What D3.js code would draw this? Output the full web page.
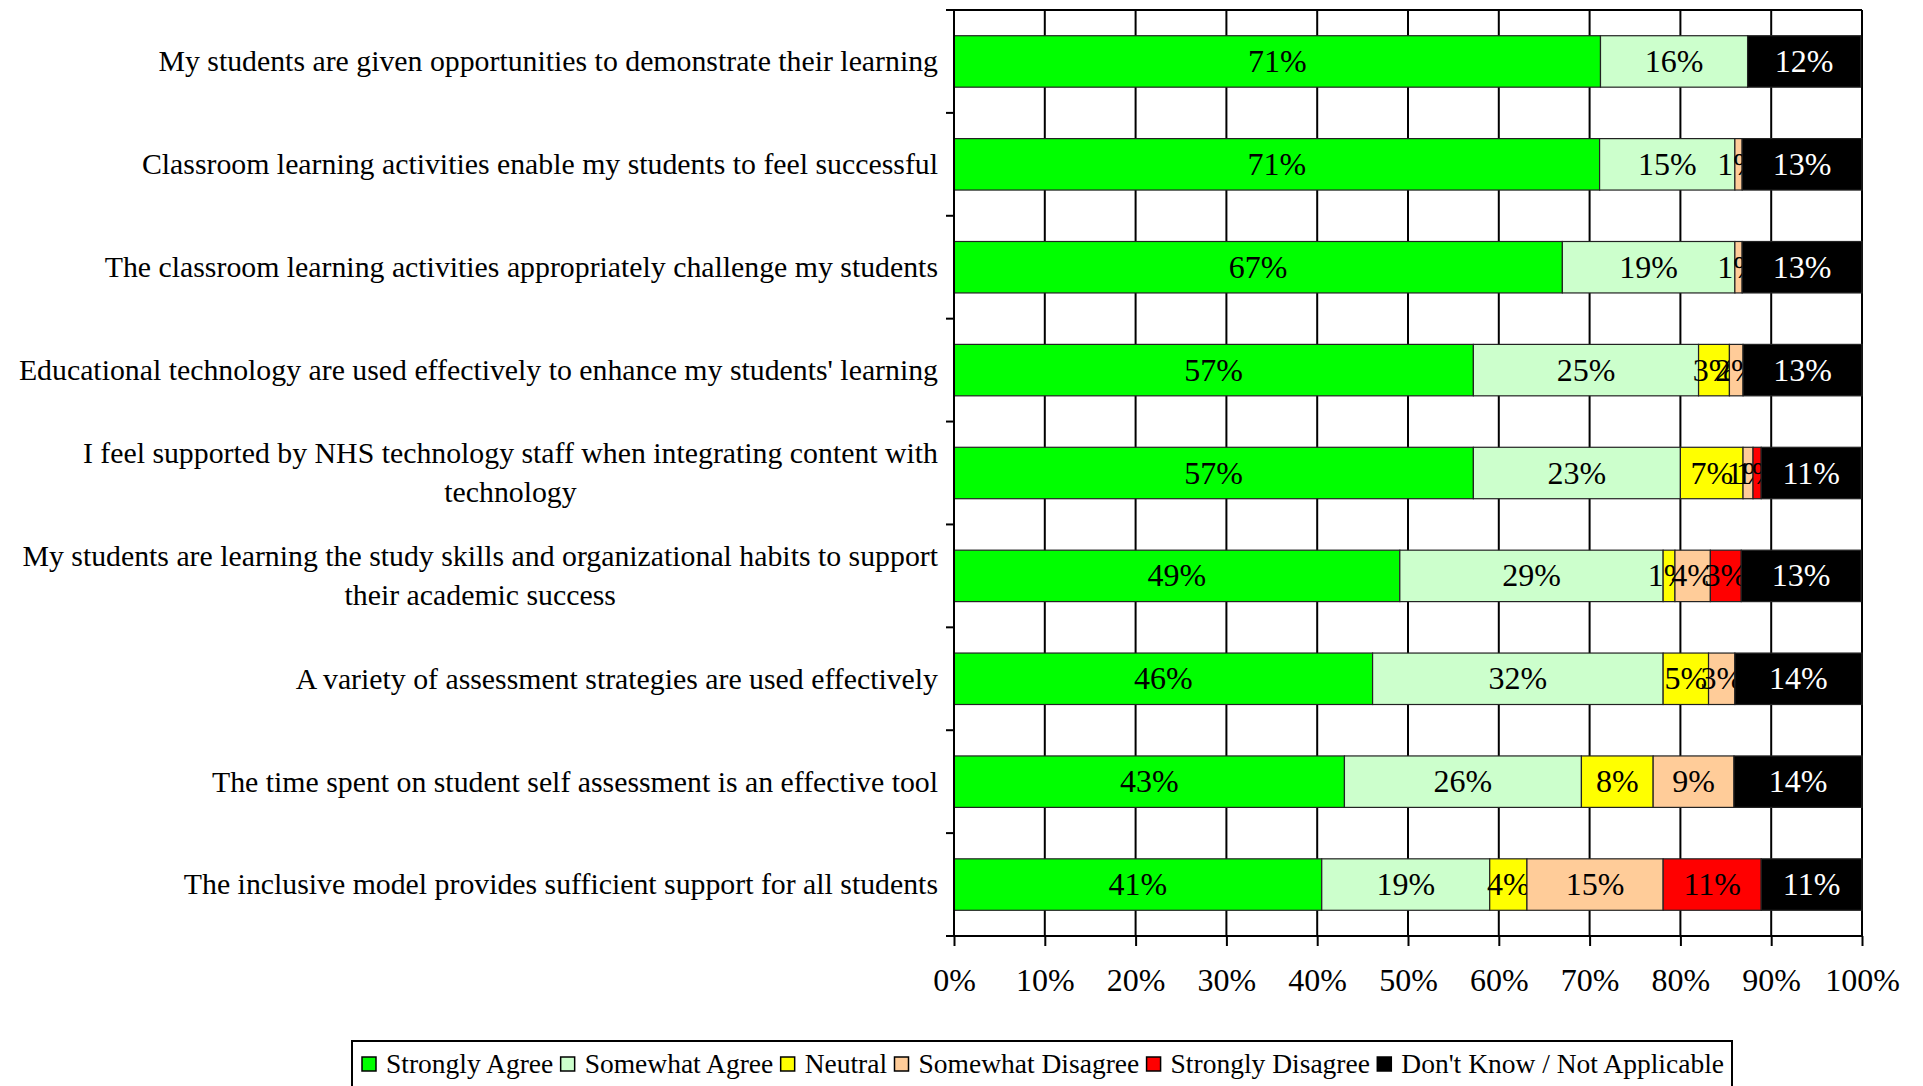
<!DOCTYPE html>
<html>
<head>
<meta charset="utf-8">
<script src="https://cdn.jsdelivr.net/npm/d3@7"></script>
<style>
  html, body { margin: 0; padding: 0; background: #fff; }
  svg { display: block; font-family: "Liberation Serif", "Times New Roman", serif; }
</style>
</head>
<body>
<svg id="chart" width="1923" height="1086"></svg>
<script>
// ---- Data ----
const categories = [
  ["My students are given opportunities to demonstrate their learning"],
  ["Classroom learning activities enable my students to feel successful"],
  ["The classroom learning activities appropriately challenge my students"],
  ["Educational technology are used effectively to enhance my students' learning"],
  ["I feel supported by NHS technology staff when integrating content with", "technology"],
  ["My students are learning the study skills and organizational habits to support", "their academic success"],
  ["A variety of assessment strategies are used effectively"],
  ["The time spent on student self assessment is an effective tool"],
  ["The inclusive model provides sufficient support for all students"]
];
const seriesNames = ["Strongly Agree", "Somewhat Agree", "Neutral", "Somewhat Disagree", "Strongly Disagree", "Don't Know / Not Applicable"];
const seriesColors = ["#00FF00", "#CCFFCC", "#FFFF00", "#FFCC99", "#FF0000", "#000000"];
const labelColors = ["#000", "#000", "#000", "#000", "#000", "#fff"];
// percentages per category (Strongly Agree .. Don't Know)
const stronglyAgree    = [71.2,  71.1, 67.0, 57.2, 57.2, 49.1, 46.1, 43.0, 40.5];
const somewhatAgree    = [16.2,  14.9, 19.0, 24.8, 22.8, 29.0, 32.0, 26.1, 18.5];
const neutral          = [0,     0,    0,    3.4,  6.9,  1.3,  5.0,  7.9,  4.1];
const somewhatDisagree = [0,     0.8,  0.8,  1.5,  1.1,  3.9,  2.9,  8.9,  15.0];
const stronglyDisagree = [0,     0,    0,    0,    0.9,  3.4,  0,    0,    10.8];
const dontKnow         = [12.45, 13.2, 13.2, 13.1, 11.0, 13.2, 14.0, 14.1, 11.1];
const xTicks = [0, 10, 20, 30, 40, 50, 60, 70, 80, 90, 100];

const seriesValues = [stronglyAgree, somewhatAgree, neutral, somewhatDisagree, stronglyDisagree, dontKnow];
const keys = seriesNames;
const rows = categories.map((c, i) => {
  const r = { idx: i };
  keys.forEach((k, j) => r[k] = seriesValues[j][i]);
  return r;
});

// ---- Layout ----
const svg = d3.select("#chart");
const pLeft = 954, pRight = 1862, pTop = 10, pBottom = 936;

const x = d3.scaleLinear().domain([0, 100]).range([pLeft, pRight]);
const y = d3.scaleBand().domain(d3.range(categories.length)).range([pTop, pBottom]).paddingInner(0.5).paddingOuter(0.25);
const yOuter = d3.scaleBand().domain(d3.range(categories.length)).range([pTop, pBottom]);

// gridlines
svg.append("g").selectAll("line").data(xTicks.filter(t => t > 0 && t < 100)).join("line")
  .attr("x1", d => x(d)).attr("x2", d => x(d))
  .attr("y1", pTop).attr("y2", pBottom)
  .attr("stroke", "#000").attr("stroke-width", 2);

// plot border top and right
svg.append("line").attr("x1", pLeft).attr("x2", pRight).attr("y1", pTop).attr("y2", pTop)
  .attr("stroke", "#000").attr("stroke-width", 2);
svg.append("line").attr("x1", pRight).attr("x2", pRight).attr("y1", pTop).attr("y2", pBottom)
  .attr("stroke", "#000").attr("stroke-width", 2);

// bars + labels, drawn series by series (later bars cover earlier labels)
const stacked = d3.stack().keys(keys)(rows);
const gBars = svg.append("g");
stacked.forEach((s, si) => {
  const key = keys[si];
  const data = s.filter(d => d.data[key] > 0);
  const g = gBars.append("g");
  g.selectAll("rect").data(data).join("rect")
    .attr("x", d => x(d[0]))
    .attr("y", d => y(d.data.idx))
    .attr("width", d => x(d[1]) - x(d[0]))
    .attr("height", y.bandwidth())
    .attr("fill", seriesColors[si])
    .attr("stroke", "#222").attr("stroke-width", 1.2);
  g.selectAll("text").data(data).join("text")
    .attr("x", d => (x(d[0]) + x(d[1])) / 2)
    .attr("y", d => y(d.data.idx) + y.bandwidth() / 2)
    .attr("dy", "0.33em")
    .attr("text-anchor", "middle")
    .attr("font-size", 32)
    .attr("fill", labelColors[si])
    .text(d => Math.round(d.data[key]) + "%");
});

// x axis
const xAxis = d3.axisBottom(x).tickValues(xTicks).tickFormat(d => d + "%").tickSize(10).tickPadding(22);
const gx = svg.append("g").attr("transform", `translate(0,${pBottom})`).call(xAxis);
gx.select(".domain").attr("stroke", "#000").attr("stroke-width", 2).attr("d", `M${pLeft - 8},0H${pRight}`);
gx.selectAll(".tick line").attr("stroke", "#000").attr("stroke-width", 2);
gx.selectAll(".tick text").attr("font-size", 32).attr("fill", "#000")
  .attr("font-family", "Liberation Serif, Times New Roman, serif");

// y axis line and category ticks
svg.append("line").attr("x1", pLeft).attr("x2", pLeft).attr("y1", pTop).attr("y2", pBottom)
  .attr("stroke", "#000").attr("stroke-width", 2);
const boundaries = d3.range(categories.length + 1).map(i => i < categories.length ? yOuter(i) : pBottom);
svg.append("g").selectAll("line").data(boundaries).join("line")
  .attr("x1", pLeft - 8).attr("x2", pLeft)
  .attr("y1", d => d).attr("y2", d => d)
  .attr("stroke", "#000").attr("stroke-width", 2);

// category labels
const lineH = 39;
const gCat = svg.append("g");
categories.forEach((lines, i) => {
  const cy = yOuter(i) + yOuter.bandwidth() / 2;
  const t = gCat.append("text")
    .attr("text-anchor", "end")
    .attr("font-size", 29.8)
    .attr("fill", "#000");
  lines.forEach((ln, li) => {
    const off = (li - (lines.length - 1) / 2) * lineH;
    t.append("tspan")
      .attr("x", 938)
      .attr("y", cy + off)
      .attr("dy", "0.33em")
      .text(ln);
  });
  if (lines.length > 1) {
    const tsp = t.selectAll("tspan").nodes();
    const widths = tsp.map(n => n.getComputedTextLength());
    const maxW = d3.max(widths);
    const cxm = 938 - maxW / 2;
    t.attr("text-anchor", "middle");
    tsp.forEach(n => n.setAttribute("x", cxm));
  }
});

// legend
const legY = 1041, legX0 = 352, legX1 = 1732;
svg.append("rect").attr("x", legX0).attr("y", legY).attr("width", legX1 - legX0).attr("height", 80)
  .attr("fill", "#fff").attr("stroke", "#000").attr("stroke-width", 2);
const gLeg = svg.append("g");
const items = seriesNames.map((name, i) => {
  const t = gLeg.append("text").attr("y", 1064).attr("dy", "0.33em")
    .attr("font-size", 27.5).attr("fill", "#000").text(name);
  return { name, i, t, w: t.node().getComputedTextLength() };
});
const startX = 362, endX = 1724, swGap = 24;
const totalW = d3.sum(items, d => swGap + d.w);
const gap = (endX - startX - totalW) / (items.length - 1);
let lx = startX;
items.forEach(it => {
  gLeg.append("rect").attr("x", lx).attr("y", 1057).attr("width", 14).attr("height", 14)
    .attr("fill", seriesColors[it.i]).attr("stroke", "#000").attr("stroke-width", 1.5);
  it.t.attr("x", lx + swGap);
  lx += swGap + it.w + gap;
});
</script>
</body>
</html>
